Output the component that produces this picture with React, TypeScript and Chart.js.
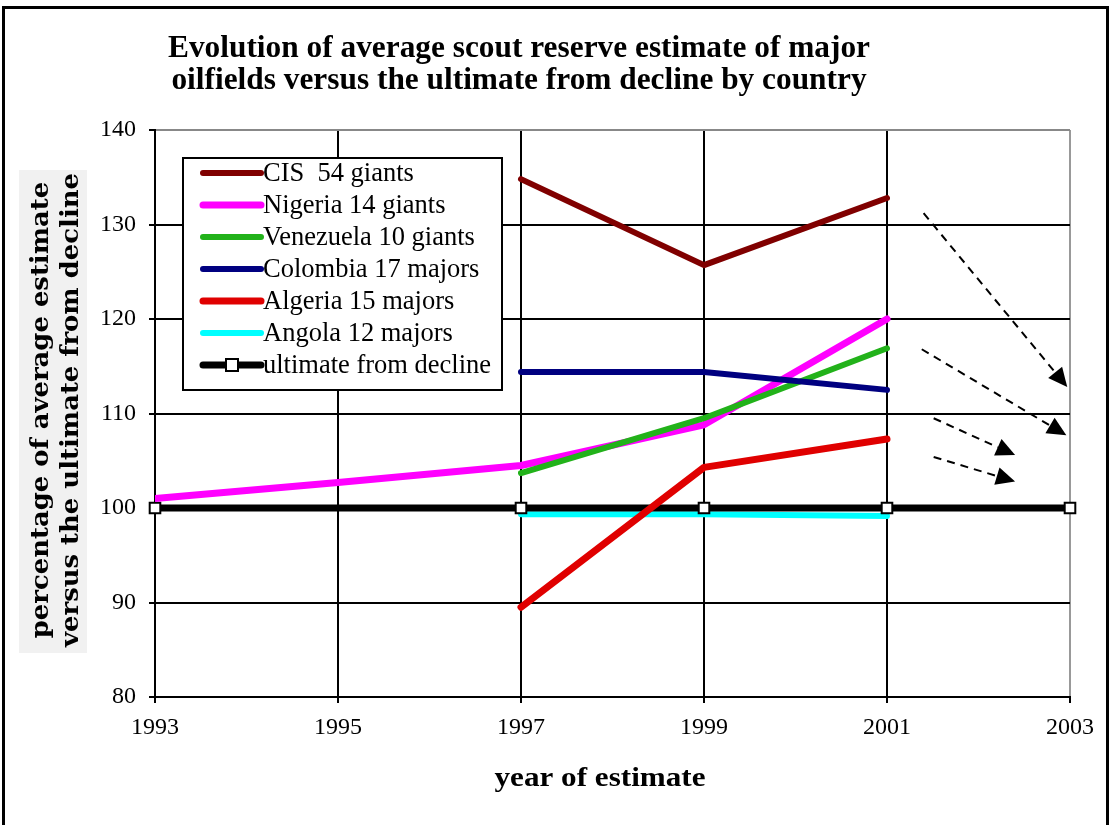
import React, { useEffect, useRef } from "react";
import { Chart, registerables } from "chart.js";

Chart.register(...registerables);

const titleLines = [
  "Evolution of average scout reserve estimate of major",
  "oilfields versus the ultimate from decline by country",
];
const yTitleLines = ["percentage of average estimate", "versus the ultimate from decline"];
const xTitle = "year of estimate";

const xTickValues = [1993, 1995, 1997, 1999, 2001, 2003];
const yTickValues = [80, 90, 100, 110, 120, 130, 140];

const seriesNames = [
  "CIS  54 giants",
  "Nigeria 14 giants",
  "Venezuela 10 giants",
  "Colombia 17 majors",
  "Algeria 15 majors",
  "Angola 12 majors",
  "ultimate from decline",
];
const seriesColors = ["#800000", "#ff00ff", "#22b21a", "#000080", "#e00000", "#00ffff", "#000000"];
const seriesWidths = [6, 7, 6, 6, 7, 6, 7];

const cisYears = [1997, 1999, 2001];
const cisValues = [134.8, 125.7, 132.8];
const nigeriaYears = [1993, 1995, 1997, 1999, 2001];
const nigeriaValues = [101.0, 102.7, 104.5, 108.8, 120.0];
const venezuelaYears = [1997, 1999, 2001];
const venezuelaValues = [103.7, 109.5, 116.9];
const colombiaYears = [1997, 1999, 2001];
const colombiaValues = [114.4, 114.4, 112.5];
const algeriaYears = [1997, 1999, 2001];
const algeriaValues = [89.5, 104.3, 107.3];
const angolaYears = [1997, 1999, 2001];
const angolaValues = [99.35, 99.35, 99.15];
const ultimateYears = [1993, 1997, 1999, 2001, 2003];
const ultimateValues = [100, 100, 100, 100, 100];

// dashed arrows (data units)
const arrowFromX = [2001.4, 2001.38, 2001.51, 2001.51];
const arrowFromY = [131.2, 116.8, 109.5, 105.4];
const arrowToX = [2002.97, 2002.96, 2002.4, 2002.4];
const arrowToY = [112.8, 107.7, 105.6, 102.8];

const toPoints = (xs: number[], ys: number[]) => xs.map((x, i) => ({ x, y: ys[i] }));

const seriesData = [
  toPoints(cisYears, cisValues),
  toPoints(nigeriaYears, nigeriaValues),
  toPoints(venezuelaYears, venezuelaValues),
  toPoints(colombiaYears, colombiaValues),
  toPoints(algeriaYears, algeriaValues),
  toPoints(angolaYears, angolaValues),
  toPoints(ultimateYears, ultimateValues),
];
// draw order (lower = on top)
const seriesOrder = [3, 5, 4, 2, 1, 7, 6];

const W = 1109;
const H = 825;
const SERIF = '"Liberation Serif", "Times New Roman", Times, serif';

const decorPlugin = {
  id: "decor",
  beforeDraw(chart: any) {
    const ctx = chart.ctx;
    ctx.save();
    ctx.fillStyle = "#ffffff";
    ctx.fillRect(0, 0, W, H);
    ctx.restore();
  },
  afterDraw(chart: any) {
    const ctx = chart.ctx;
    const area = chart.chartArea;
    const xs = chart.scales.x;
    const ys = chart.scales.y;
    ctx.save();

    // outer border
    ctx.strokeStyle = "#000";
    ctx.lineWidth = 3;
    ctx.strokeRect(3.5, 7.5, W - 5, H + 10);

    // title
    ctx.fillStyle = "#000";
    ctx.font = "bold 31px " + SERIF;
    ctx.textAlign = "center";
    ctx.textBaseline = "alphabetic";
    const tw = ctx.measureText(titleLines[0]).width;
    const ts = 702 / tw;
    const titleBase = [57, 89];
    titleLines.forEach((line, i) => {
      ctx.save();
      ctx.translate(519, titleBase[i]);
      ctx.scale(ts, 1);
      ctx.fillText(line, 0, 0);
      ctx.restore();
    });

    // y title
    ctx.fillStyle = "#f1f1f1";
    ctx.fillRect(19, 170, 68, 483);
    ctx.fillStyle = "#000";
    ctx.font = 'bold 24px "DejaVu Serif"';
    const yw = ctx.measureText(yTitleLines[1]).width;
    const ysc = 474 / yw;
    const yCenters = [42, 72];
    yTitleLines.forEach((line, i) => {
      ctx.save();
      ctx.translate(yCenters[i], 410);
      ctx.rotate(-Math.PI / 2);
      ctx.scale(ysc, 1);
      ctx.textAlign = "center";
      ctx.textBaseline = "middle";
      ctx.fillText(line, 0, 0);
      ctx.restore();
    });

    // x title
    ctx.font = "bold 27px " + SERIF;
    ctx.textAlign = "center";
    ctx.textBaseline = "alphabetic";
    const xw = ctx.measureText(xTitle).width;
    ctx.save();
    ctx.translate(600, 786);
    ctx.scale(211 / xw, 1);
    ctx.fillText(xTitle, 0, 0);
    ctx.restore();

    // arrows
    for (let i = 0; i < arrowFromX.length; i++) {
      const x1 = xs.getPixelForValue(arrowFromX[i]);
      const y1 = ys.getPixelForValue(arrowFromY[i]);
      const x2 = xs.getPixelForValue(arrowToX[i]);
      const y2 = ys.getPixelForValue(arrowToY[i]);
      const ang = Math.atan2(y2 - y1, x2 - x1);
      const hl = 19;
      const hw = 9;
      const bx = x2 - hl * Math.cos(ang);
      const by = y2 - hl * Math.sin(ang);
      ctx.strokeStyle = "#000";
      ctx.lineWidth = 2;
      ctx.setLineDash([8, 6]);
      ctx.beginPath();
      ctx.moveTo(x1, y1);
      ctx.lineTo(bx, by);
      ctx.stroke();
      ctx.setLineDash([]);
      ctx.fillStyle = "#000";
      ctx.beginPath();
      ctx.moveTo(x2, y2);
      ctx.lineTo(bx + hw * Math.sin(ang), by - hw * Math.cos(ang));
      ctx.lineTo(bx - hw * Math.sin(ang), by + hw * Math.cos(ang));
      ctx.closePath();
      ctx.fill();
    }

    // legend
    const lx = area.left + 28;
    const ly = area.top + 28;
    const lw = 319;
    const lh = 232;
    ctx.fillStyle = "#fff";
    ctx.fillRect(lx, ly, lw, lh);
    ctx.strokeStyle = "#000";
    ctx.lineWidth = 2;
    ctx.strokeRect(lx, ly, lw, lh);
    ctx.font = "26.5px " + SERIF;
    ctx.textAlign = "left";
    ctx.textBaseline = "middle";
    seriesNames.forEach((name, i) => {
      const cy = ly + 15 + i * 32;
      ctx.strokeStyle = seriesColors[i];
      ctx.lineWidth = seriesWidths[i];
      ctx.lineCap = "round";
      ctx.beginPath();
      ctx.moveTo(lx + 20, cy);
      ctx.lineTo(lx + 78, cy);
      ctx.stroke();
      if (i === seriesNames.length - 1) {
        ctx.fillStyle = "#fff";
        ctx.fillRect(lx + 43, cy - 6, 12, 12);
        ctx.strokeStyle = "#000";
        ctx.lineWidth = 2;
        ctx.strokeRect(lx + 43, cy - 6, 12, 12);
      }
      ctx.fillStyle = "#000";
      ctx.fillText(name, lx + 80, cy + 1);
    });

    ctx.restore();
  },
};

export default function App() {
  const ref = useRef<HTMLCanvasElement | null>(null);
  useEffect(() => {
    document.body.style.margin = "0";
    const canvas = ref.current;
    if (!canvas) return;
    let chart: any = null;
    let cancelled = false;
    const build = () => {
      if (cancelled) return;
      const datasets = seriesNames.map((name, i) => {
        const last = i === seriesNames.length - 1;
        return {
          label: name,
          data: seriesData[i],
          borderColor: seriesColors[i],
          backgroundColor: last ? "#ffffff" : seriesColors[i],
          borderWidth: seriesWidths[i],
          borderCapStyle: "round" as const,
          borderJoinStyle: "round" as const,
          pointRadius: last ? 7.5 : 0,
          pointStyle: "rect" as const,
          pointBorderWidth: 2,
          pointBorderColor: "#000",
          pointBackgroundColor: "#fff",
          fill: false,
          tension: 0,
          clip: last ? false : undefined,
          order: seriesOrder[i],
        };
      });
      chart = new Chart(canvas, {
        type: "line",
        data: { datasets },
        options: {
          responsive: false,
          animation: false,
          devicePixelRatio: 1,
          layout: { padding: { left: 0, top: 130, right: 39, bottom: 0 } },
          plugins: { legend: { display: false }, tooltip: { enabled: false }, title: { display: false } },
          scales: {
            x: {
              type: "linear",
              min: 1993,
              max: 2003,
              afterBuildTicks: (s: any) => {
                s.ticks = xTickValues.map((v) => ({ value: v }));
              },
              afterFit: (s: any) => {
                s.height = 128;
              },
              ticks: {
                callback: (v: any) => String(v),
                color: "#000",
                font: { family: SERIF, size: 24 },
                padding: 10,
                maxRotation: 0,
                autoSkip: false,
              },
              grid: {
                color: (c: any) => (c.tick && c.tick.value === 2003 ? "#999999" : "#000000"),
                lineWidth: 2,
                tickLength: 6,
                tickColor: "#000",
              },
              border: { color: "#000", width: 2 },
            },
            y: {
              type: "linear",
              min: 80,
              max: 140,
              afterBuildTicks: (s: any) => {
                s.ticks = yTickValues.map((v) => ({ value: v }));
              },
              afterFit: (s: any) => {
                s.width = 155;
              },
              ticks: {
                callback: (v: any) => String(v),
                color: "#000",
                font: { family: SERIF, size: 24 },
                padding: 13,
                autoSkip: false,
              },
              grid: {
                color: (c: any) => (c.tick && c.tick.value === 140 ? "#888888" : "#000000"),
                lineWidth: 2,
                tickLength: 6,
                tickColor: "#000",
              },
              border: { color: "#000", width: 2 },
            },
          },
        },
        plugins: [decorPlugin],
      });
    };
    const fontsApi: any = (document as any).fonts;
    if (fontsApi && fontsApi.load) {
      Promise.all([
        fontsApi.load('24px "Liberation Serif"'),
        fontsApi.load('bold 30px "Liberation Serif"'),
        fontsApi.load('bold 22px "DejaVu Serif"'),
      ])
        .catch(() => null)
        .then(build);
    } else {
      build();
    }
    return () => {
      cancelled = true;
      if (chart) chart.destroy();
    };
  }, []);
  return (
    <div style={{ position: "absolute", left: 0, top: 0, width: W, height: H }}>
      <canvas ref={ref} width={W} height={H} style={{ display: "block", width: W, height: H }} />
    </div>
  );
}
